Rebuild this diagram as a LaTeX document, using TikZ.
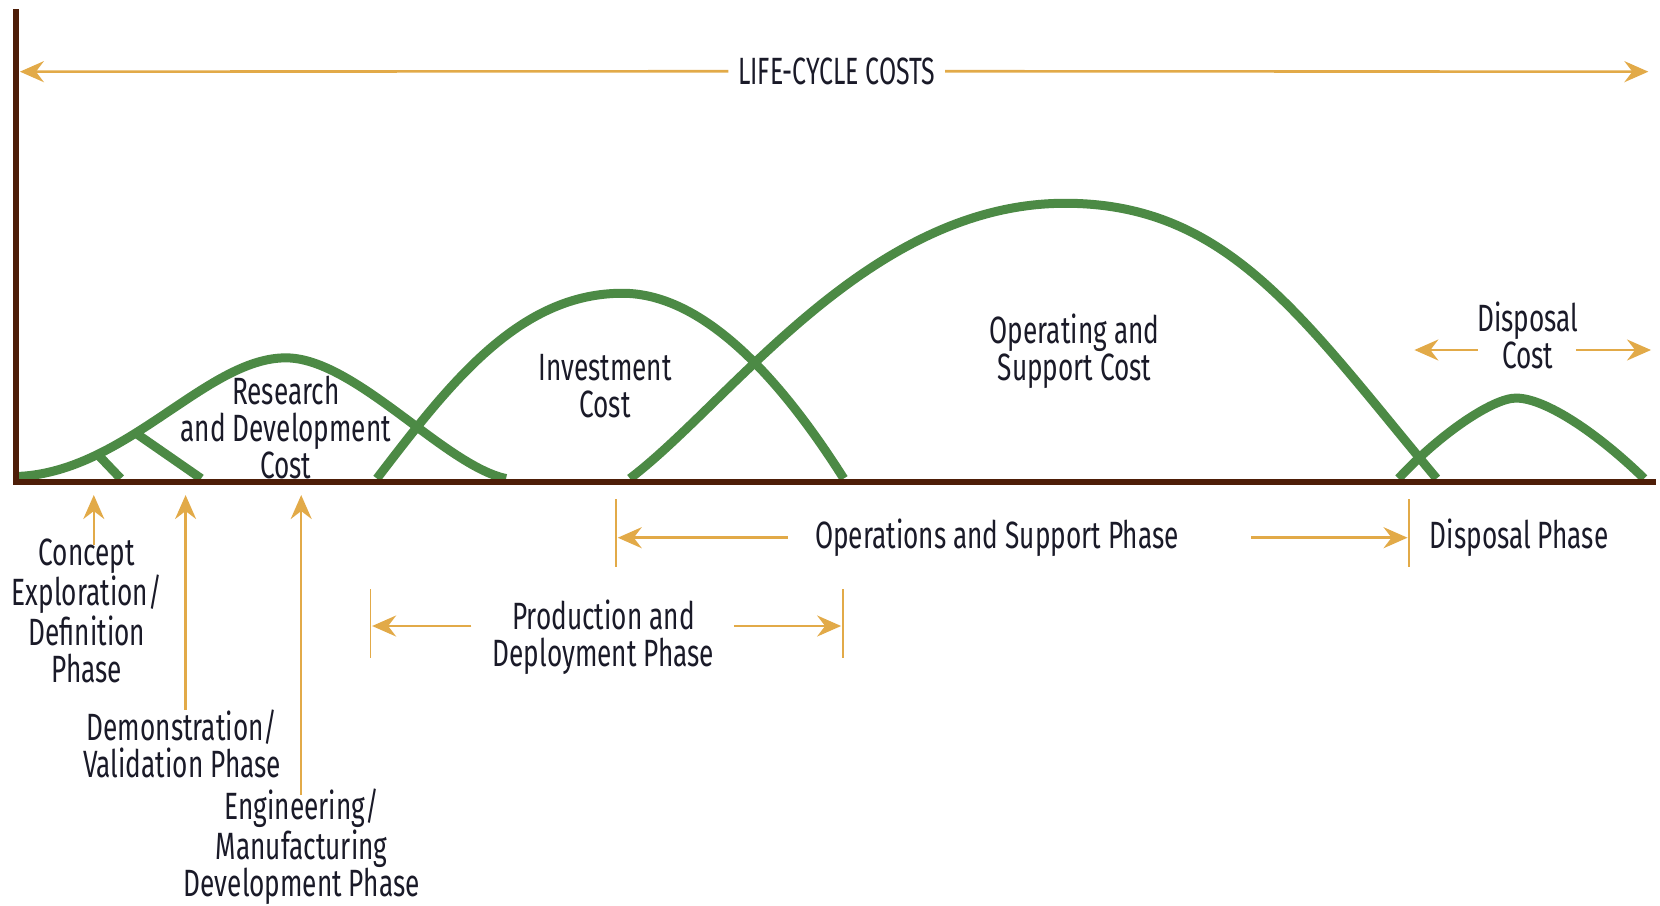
\documentclass[tikz,border=0pt]{standalone}
\usepackage{fontspec}
\setmainfont{Fira Sans}[FakeStretch=0.69]
\newfontfamily\capsfont{Fira Sans}[FakeStretch=0.655]
\usetikzlibrary{arrows.meta}
\definecolor{cgreen}{HTML}{4C8A45}
\definecolor{cgold}{HTML}{E2AA48}
\definecolor{cbrown}{HTML}{4E1E08}
\definecolor{ctext}{HTML}{1A1A28}
\tikzset{
  curve/.style={draw=cgreen, line width=4.5pt},
  axisline/.style={draw=cbrown, line width=3pt},
  arr/.style={draw=cgold, line width=1.3pt, -{Stealth[length=12pt,width=10.5pt,inset=4pt]}},
  bar/.style={draw=cgold, line width=0.8pt},
  lbl/.style={text=ctext, font=\fontsize{19}{18.5}\selectfont, align=center, inner sep=0pt},
}
\begin{document}
\begin{tikzpicture}[x=0.5294pt,y=-0.5294pt]
\useasboundingbox (0,0) rectangle (1568,855);
% curves
\draw[curve] (18,450) .. controls (120,445) and (195,338) .. (270,338)
                      .. controls (335,338) and (420,440) .. (478,452);
\draw[curve] (92,429) -- (114,452);
\draw[curve] (128,409) -- (190,452);
\draw[curve] (356,452) .. controls (425,362) and (490,277) .. (588,277)
                       .. controls (670,277) and (745,370) .. (797,452);
\draw[curve] (595,452) .. controls (690,380) and (820,192) .. (1006,192)
                       .. controls (1160,192) and (1230,300) .. (1357,452);
\draw[curve] (1321,452) .. controls (1360,410) and (1410,376) .. (1432,376)
                        .. controls (1460,376) and (1510,410) .. (1553,452);
% axes
\coordinate (ytop) at (15.5,8.8);
\coordinate (orig) at (15.5,455.6);
\coordinate (xend) at (1564,455.6);
\draw[axisline] (ytop) -- (orig) -- (xend);
% life-cycle costs
\node[lbl, font=\capsfont\fontsize{19}{18.5}\selectfont, inner xsep=4.7pt] (lcc) at (790.3,67.3) {LIFE-CYCLE COSTS};
\coordinate (lcl) at (18.8,67.7);
\coordinate (lcr) at (1557,67.7);
\draw[arr] (lcc.west) -- (lcl);
\draw[arr] (lcc.east) -- (lcr);
% cost labels
\node[lbl] (rd) at (270,404) {Research\\and Development\\Cost};
\node[lbl] (inv) at (571.5,364.5) {Investment\\Cost};
\node[lbl] (os) at (1015,331.5) {Operating and\\Support Cost};
\node[lbl] (dc) at (1443,316.5) {Disposal\\Cost};
\coordinate (dclt) at (1396,330.6);
\coordinate (dcl) at (1336,330.6);
\coordinate (dcrt) at (1488.6,330.6);
\coordinate (dcr) at (1559.5,330.6);
\draw[arr] (dclt) -- (dcl);
\draw[arr] (dcrt) -- (dcr);
% phase labels with upward arrows
\node[lbl] (ce) at (82,577) {Concept\\Exploration/\\Definition\\Phase};
\node[lbl] (dv) at (172,703) {Demonstration/\\Validation Phase};
\node[lbl] (em) at (285,800) {Engineering/\\Manufacturing\\Development Phase};
\coordinate (ceh) at (88.6,467.6);
\coordinate (cet) at (88.6,514.8);
\coordinate (dvh) at (175.3,467.6);
\coordinate (dvt) at (175.3,670.6);
\coordinate (emh) at (284.5,467.6);
\coordinate (emt) at (284.5,751);
\draw[arr] (cet) -- (ceh);
\draw[arr] (dvt) -- (dvh);
\draw[arr] (emt) -- (emh);
% production and deployment
\node[lbl] (pd) at (570,601.5) {Production and\\Deployment Phase};
\coordinate (pdb1) at (350,556.7);
\coordinate (pdb1e) at (350,621.8);
\coordinate (pdb2) at (796,556.7);
\coordinate (pdb2e) at (796,621.8);
\draw[bar] (pdb1) -- (pdb1e);
\draw[bar] (pdb2) -- (pdb2e);
\coordinate (pdlt) at (445.3,591.3);
\coordinate (pdlh) at (351.5,591.3);
\coordinate (pdrt) at (693.3,591.3);
\coordinate (pdrh) at (794.5,591.3);
\draw[arr] (pdlt) -- (pdlh);
\draw[arr] (pdrt) -- (pdrh);
% operations and support
\node[lbl] (ops) at (941.6,507.9) {Operations and Support Phase};
\node[lbl] (dp) at (1435,507.9) {Disposal Phase};
\coordinate (opb1) at (582,471.6);
\coordinate (opb1e) at (582,535.3);
\coordinate (opb2) at (1331,471.6);
\coordinate (opb2e) at (1331,535.3);
\draw[bar] (opb1) -- (opb1e);
\draw[bar] (opb2) -- (opb2e);
\coordinate (oplt) at (744.3,507.9);
\coordinate (oplh) at (583.5,507.9);
\coordinate (oprt) at (1181.6,507.9);
\coordinate (oprh) at (1329.5,507.9);
\draw[arr] (oplt) -- (oplh);
\draw[arr] (oprt) -- (oprh);
\end{tikzpicture}
\end{document}
